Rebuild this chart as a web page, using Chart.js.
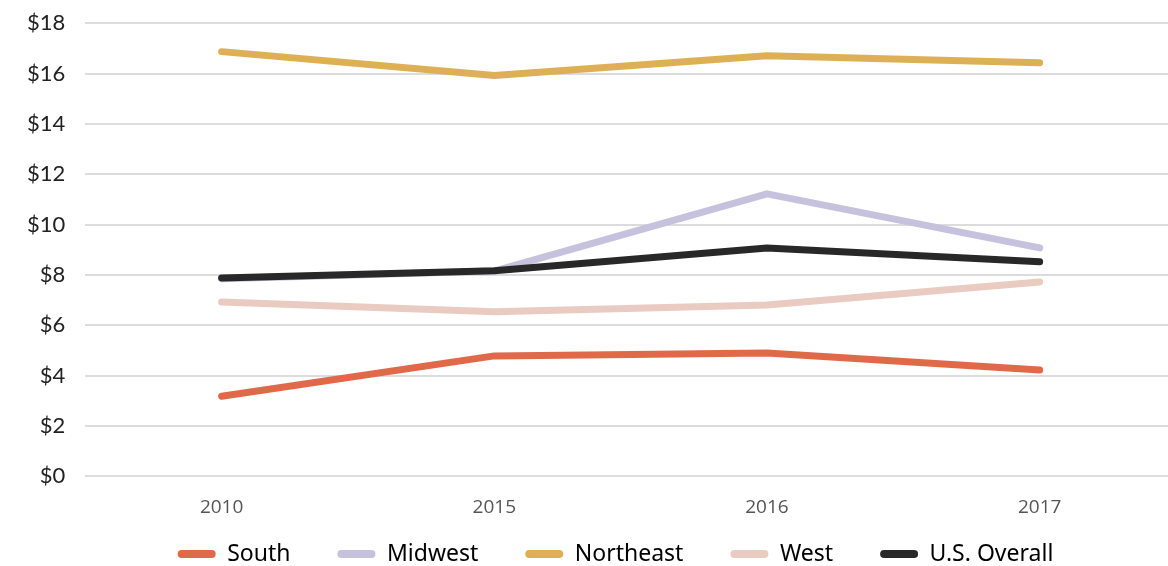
<!DOCTYPE html>
<html>
<head>
<meta charset="utf-8">
<script src="https://cdn.jsdelivr.net/npm/chart.js@4/dist/chart.umd.min.js"></script>
<style>
html,body{margin:0;padding:0;background:#fff;overflow:hidden;width:1168px;height:566px;}
#wrap{width:1176px;height:576px;position:absolute;left:0;top:-10px;}
</style>
</head>
<body>
<div id="wrap"><canvas id="c"></canvas></div>
<script>
const categories = ["2010", "2015", "2016", "2017"];
const seriesNames = ["South", "Midwest", "Northeast", "West", "U.S. Overall"];
const south = [3.18, 4.78, 4.9, 4.22];
const midwest = [7.85, 8.15, 11.22, 9.07];
const northeast = [16.87, 15.92, 16.71, 16.43];
const west = [6.92, 6.53, 6.8, 7.72];
const usOverall = [7.88, 8.16, 9.07, 8.52];
const yTicks = [0, 2, 4, 6, 8, 10, 12, 14, 16, 18];

const colors = ["#e0694a", "#c6c2de", "#deb055", "#e9cbc2", "#282828"];
const values = [south, midwest, northeast, west, usOverall];
const drawOrder = [2, 3, 2, 2, 1];

const LEGEND_CENTER_Y = 564;
const LEGEND_PAD = 47;
const LEGEND_FONT = 23;
const LEGEND_RESERVED = 27;
const LEGEND_SHIFT_X = 48;

const legendTweak = {
  id: 'legendTweak',
  afterInit(chart) {
    const L = chart.legend;
    const origFit = L.fit.bind(L);
    L.fit = function () { origFit(); this.height = LEGEND_RESERVED; };
    const origDraw = L.draw.bind(L);
    L.draw = function () {
      const saved = { top: this.top, bottom: this.bottom, height: this.height, left: this.left };
      this.top = LEGEND_CENTER_Y - LEGEND_PAD - LEGEND_FONT / 2;
      this.bottom = this.top + 200;
      this.height = 200;
      this.left = this.left + LEGEND_SHIFT_X;
      origDraw();
      Object.assign(this, saved);
    };
  }
};

new Chart(document.getElementById('c'), {
  type: 'line',
  data: {
    labels: categories,
    datasets: seriesNames.map((n, i) => ({
      label: n,
      data: values[i],
      borderColor: colors[i],
      backgroundColor: colors[i],
      borderWidth: 7,
      borderCapStyle: 'round',
      borderJoinStyle: 'round',
      pointRadius: 0,
      tension: 0,
      fill: false,
      order: drawOrder[i]
    }))
  },
  plugins: [legendTweak],
  options: {
    responsive: true,
    maintainAspectRatio: false,
    animation: false,
    layout: { padding: { top: 0, left: 7, right: 0, bottom: 0 } },
    plugins: {
      tooltip: { enabled: false },
      legend: {
        position: 'bottom',
        labels: {
          font: { family: 'Noto Sans', size: LEGEND_FONT },
          color: '#222',
          boxWidth: 38,
          boxHeight: 8,
          padding: LEGEND_PAD,
          useBorderRadius: true,
          borderRadius: 4,
          generateLabels: (chart) => chart.data.datasets.map((d, i) => ({
            text: d.label,
            fillStyle: d.borderColor,
            strokeStyle: d.borderColor,
            lineWidth: 0,
            borderRadius: 4,
            datasetIndex: i,
            hidden: false
          })),
          sort: (a, b) => a.datasetIndex - b.datasetIndex
        }
      }
    },
    scales: {
      x: {
        offset: true,
        grid: { display: false, drawTicks: false },
        border: { display: false },
        ticks: { color: '#555', font: { family: 'Open Sans', size: 19 }, padding: 20 }
      },
      y: {
        min: 0, max: 18,
        afterBuildTicks: (axis) => { axis.ticks = yTicks.map(v => ({ value: v })); },
        grid: { color: '#dcdcdc', lineWidth: 2, drawTicks: false },
        border: { display: false },
        ticks: {
          color: '#222',
          font: { family: 'Lato', size: 22 },
          padding: 20,
          callback: (v) => '$' + v
        }
      }
    }
  }
});
</script>
</body>
</html>
